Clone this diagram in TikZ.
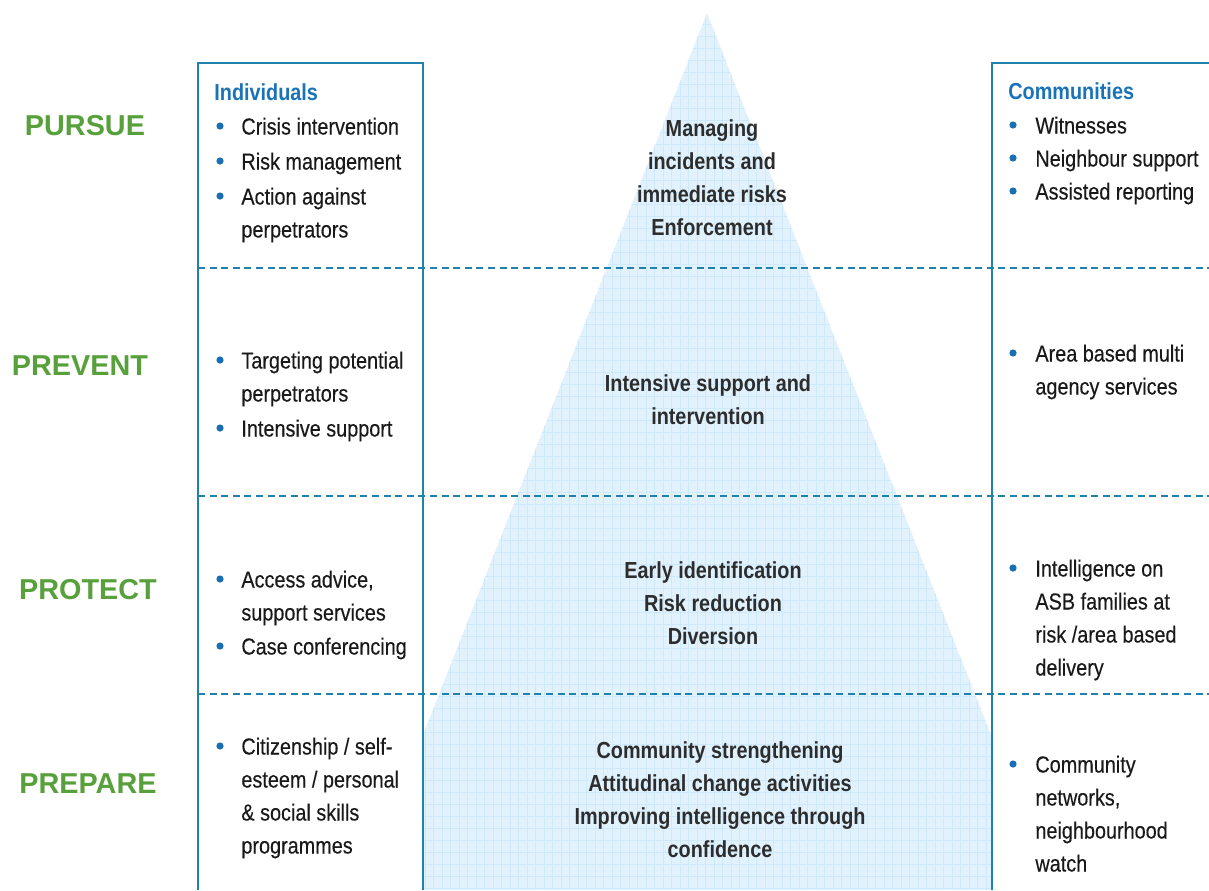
\documentclass[tikz,border=0pt]{standalone}
\usepackage{fontspec}
\setmainfont{Liberation Sans}
\newfontfamily\narrowfont{Liberation Sans}[FakeStretch=0.855, FakeBold=0.3]
\newfontfamily\narrowbold{Liberation Sans Bold}[FakeStretch=0.855]
\newfontfamily\widefont{Liberation Sans}

\definecolor{boxblue}{RGB}{32,130,172}
\definecolor{headblue}{RGB}{26,115,184}
\definecolor{bulletblue}{RGB}{25,110,180}
\definecolor{labelgreen}{RGB}{88,160,60}
\definecolor{pyrfill}{RGB}{225,242,253}
\definecolor{pyrgrid}{RGB}{206,233,251}
\definecolor{midgray}{RGB}{45,45,45}

\newcommand{\itemfont}{\narrowfont\fontsize{11.6}{16.5}\selectfont}
\newcommand{\midfont}{\narrowbold\fontsize{11.6}{16.5}\selectfont}

\tikzset{
    boxline/.style={line width=1pt, boxblue},
    sepline/.style={line width=1pt, boxblue, dash pattern=on 3.5pt off 2.3pt},
    itemtext/.style={anchor=north west, inner sep=0pt, align=left, font=\itemfont, text=black!90},
    headtext/.style={anchor=north west, inner sep=0pt, font=\midfont, text=headblue},
    midtext/.style={anchor=north, inner sep=0pt, align=center, font=\midfont, text=midgray},
    phase/.style={inner sep=0pt, font=\widefont\bfseries\fontsize{14.4}{16}\selectfont, text=labelgreen},
    dot/.style={circle, fill=bulletblue, inner sep=0pt, minimum size=3.6pt}
}

\begin{document}
\begin{tikzpicture}[x=0.5pt, y=-0.5pt]
    \useasboundingbox (0,0) rectangle (1209,890);

    % pyramid, cut off by the two columns
    \begin{scope}
        \clip (423,0) rectangle (992,890);
        \clip (707,13) -- (362,890) -- (1052,890) -- cycle;
        \fill[pyrfill] (423,0) rectangle (992,890);
        \draw[pyrgrid, line width=0.35pt, xstep=4.25pt, ystep=6pt] (423,890) grid (992,0);
    \end{scope}

    % columns and row separators
    \draw[boxline] (198,890) -- (198,63) -- (423,63) -- (423,890);
    \draw[boxline] (992,890) -- (992,63) -- (1212,63);
    \draw[sepline] (198,268) -- (1209,268);
    \draw[sepline] (198,496) -- (1209,496);
    \draw[sepline] (198,694) -- (1209,694);

    % phases
    \node[phase] (pursue) at (85,126) {PURSUE};
    \node[phase] (prevent) at (80,366) {PREVENT};
    \node[phase] (protect) at (88,590) {PROTECT};
    \node[phase] (prepare) at (88,784) {PREPARE};

    % individuals
    \node[headtext] (ind) at (214,77) {\strut Individuals};
    \node[dot] (i1dot) at (220,126) {};
    \node[itemtext] (i1) at (241,111) {\strut Crisis intervention};
    \node[dot] (i2dot) at (220,161) {};
    \node[itemtext] (i2) at (241,146) {\strut Risk management};
    \node[dot] (i3dot) at (220,196) {};
    \node[itemtext] (i3) at (241,181) {\strut Action against\\perpetrators};
    \node[dot] (i4dot) at (220,360) {};
    \node[itemtext] (i4) at (241,345) {\strut Targeting potential\\perpetrators};
    \node[dot] (i5dot) at (220,428) {};
    \node[itemtext] (i5) at (241,413) {\strut Intensive support};
    \node[dot] (i6dot) at (220,579) {};
    \node[itemtext] (i6) at (241,564) {\strut Access advice,\\support services};
    \node[dot] (i7dot) at (220,646) {};
    \node[itemtext] (i7) at (241,631) {\strut Case conferencing};
    \node[dot] (i8dot) at (220,746) {};
    \node[itemtext] (i8) at (241,731) {\strut Citizenship / self-\\esteem / personal\\\& social skills\\programmes};

    % communities
    \node[headtext] (com) at (1008,76) {\strut Communities};
    \node[dot] (c1dot) at (1013,125) {};
    \node[itemtext] (c1) at (1035,110) {\strut Witnesses};
    \node[dot] (c2dot) at (1013,158) {};
    \node[itemtext] (c2) at (1035,143) {\strut Neighbour support};
    \node[dot] (c3dot) at (1013,191) {};
    \node[itemtext] (c3) at (1035,176) {\strut Assisted reporting};
    \node[dot] (c4dot) at (1013,353) {};
    \node[itemtext] (c4) at (1035,338) {\strut Area based multi\\agency services};
    \node[dot] (c5dot) at (1013,568) {};
    \node[itemtext] (c5) at (1035,553) {\strut Intelligence on\\ASB families at\\risk /area based\\delivery};
    \node[dot] (c6dot) at (1013,764) {};
    \node[itemtext] (c6) at (1035,749) {\strut Community\\networks,\\neighbourhood\\watch};

    % pyramid levels
    \node[midtext] (lvl1) at (712,113) {\strut Managing\\incidents and\\immediate risks\\Enforcement};
    \node[midtext] (lvl2) at (708,368) {\strut Intensive support and\\intervention};
    \node[midtext] (lvl3) at (713,555) {\strut Early identification\\Risk reduction\\Diversion};
    \node[midtext] (lvl4) at (720,735) {\strut Community strengthening\\Attitudinal change activities\\Improving intelligence through\\confidence};
\end{tikzpicture}
\end{document}
